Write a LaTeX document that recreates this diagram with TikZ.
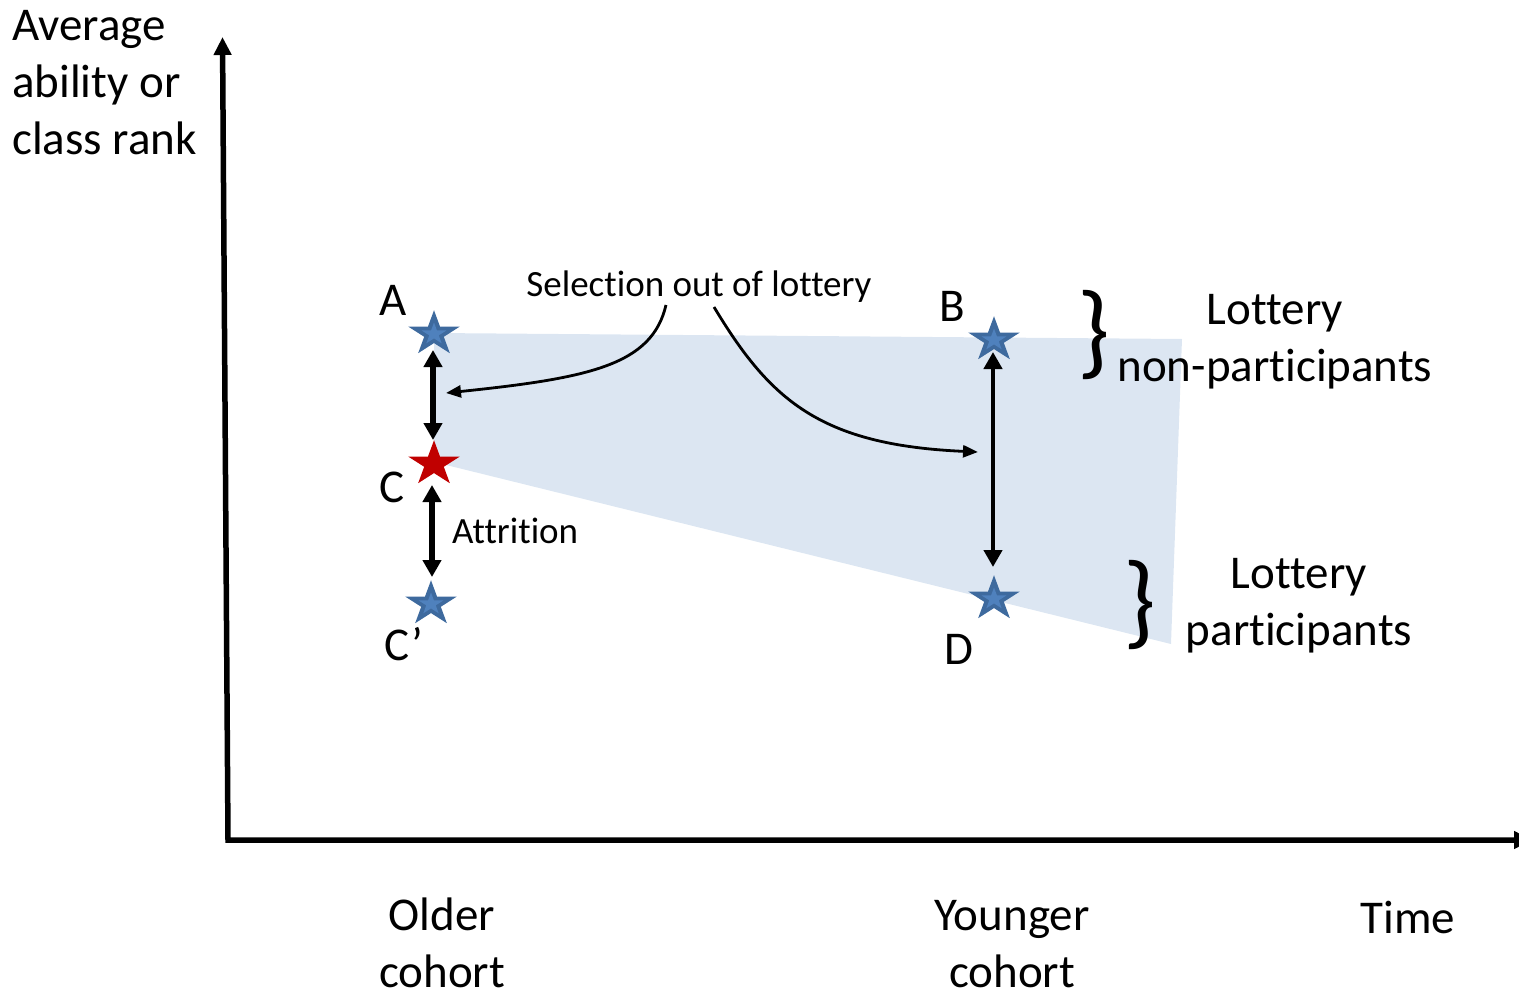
\documentclass[tikz,border=0pt]{standalone}
\usepackage{fontspec}
\setmainfont{Carlito}[Ligatures=NoCommon]
\usetikzlibrary{arrows.meta}

\definecolor{bandblue}{RGB}{220,230,242}
\definecolor{stardark}{RGB}{62,106,158}
\definecolor{starlight}{RGB}{79,129,189}
\definecolor{starred}{RGB}{192,0,0}

% five-pointed star outline: outer radius #1, inner radius #2
\newcommand\starpoly[2]{(-90:#1) -- (-54:#2) -- (-18:#1) -- (18:#2) -- (54:#1) -- (90:#2) -- (126:#1) -- (162:#2) -- (198:#1) -- (234:#2) -- cycle}

\tikzset{
  pics/bluestar/.style={code={
    \fill[stardark, yscale=0.88] \starpoly{27}{10.3};
    \fill[starlight, yscale=0.88] \starpoly{13}{5};
  }},
  pics/redstar/.style={code={
    \fill[starred, yscale=0.88] \starpoly{27}{10.3};
  }},
  big/.style={font=\fontsize{47}{57}\selectfont, inner sep=0pt},
  small/.style={font=\fontsize{37}{44}\selectfont, inner sep=0pt},
  bracefont/.style={font=\fontsize{104}{104}\selectfont, inner sep=0pt},
  axis/.style={line width=5.5pt, {Triangle[length=18pt,width=17pt]}-{Triangle[length=18pt,width=17pt]}},
  dbl/.style={line width=#1, {Triangle[length=17pt,width=18pt]}-{Triangle[length=17pt,width=18pt]}},
  thincurve/.style={line width=2.8pt, -{Triangle[length=15pt,width=12pt]}},
}

\begin{document}
\begin{tikzpicture}[x=1pt,y=-1pt]
\useasboundingbox (0,0) rectangle (1519,998);

% axes
\coordinate (ytop) at (222.5,37);
\coordinate (origin) at (228,840);
\coordinate (xend) at (1532,840);
\draw[axis] (ytop) -- (origin) -- (xend);

% shaded band between the two groups
\fill[bandblue] (434,333) -- (1182,339) -- (1171,644) -- (434,462) -- cycle;

% star positions
\coordinate (sA) at (434,334);
\coordinate (sC) at (434,464);
\coordinate (sCp) at (431,604);
\coordinate (sB) at (994,340);
\coordinate (sD) at (994,599);

\pic at (sA) {bluestar};
\pic at (sC) {redstar};
\pic at (sCp) {bluestar};
\pic at (sB) {bluestar};
\pic at (sD) {bluestar};

% gaps between the stars
\draw[dbl=6pt] ([xshift=-1pt,yshift=-16pt]sA) -- ([xshift=-1pt,yshift=24pt]sC);
\draw[dbl=6pt] ([xshift=-2pt,yshift=-21pt]sC) -- ([xshift=1pt,yshift=27pt]sCp);
\draw[dbl=4.7pt] ([xshift=-1pt,yshift=-12pt]sB) -- ([xshift=-1pt,yshift=32pt]sD);

% point labels
\node[big, anchor=base] (lA) at (393,315) {A};
\node[big, anchor=base] (lB) at (952,321) {B};
\node[big, anchor=base] (lC) at (392,502) {C};
\node[big, anchor=base] (lCp) at (404,660) {C’};
\node[big, anchor=base] (lD) at (959,664) {D};

% selection annotation
\node[small, anchor=base] (sel) at (699,296) {Selection out of lottery};
\coordinate (selA) at (446,393);
\coordinate (selB) at (978,452);
\draw[thincurve] (666,305) .. controls (652,365) and (590,378) .. (selA);
\draw[thincurve] (714,307) .. controls (770,400) and (820,445) .. (selB);

\node[small, anchor=base west] (attr) at (452,543) {Attrition};

% group braces and labels
\node[bracefont] (br1) at (1094,335) {\}};
\node[bracefont] (br2) at (1140,605) {\}};
\node[big, align=center] (nonpart) at (1275,342) {Lottery\\non-participants};
\node[big, align=center] (part) at (1299,606) {Lottery\\participants};

% axis labels
\node[big, align=left, anchor=west] (ylab) at (12,82.4) {Average\\ability or\\class rank};
\node[big, align=center] (older) at (442,943) {Older\\cohort};
\node[big, align=center] (younger) at (1012,944) {Younger\\cohort};
\node[big, anchor=base] (time) at (1408,933) {Time};
\end{tikzpicture}
\end{document}
